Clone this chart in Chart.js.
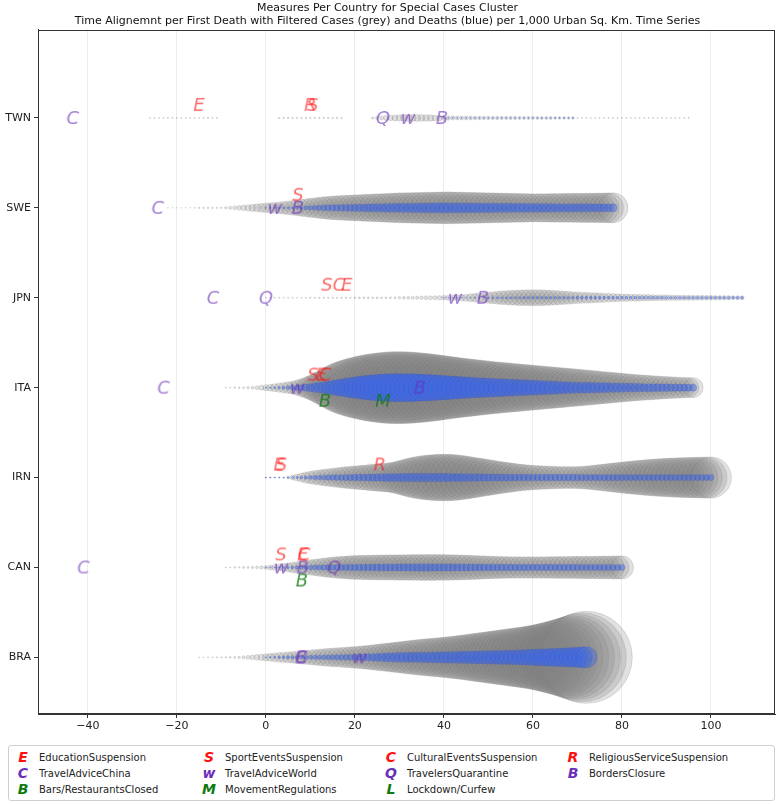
<!DOCTYPE html>
<html>
<head>
<meta charset="utf-8">
<script src="https://cdn.jsdelivr.net/npm/chart.js@4.4.1/dist/chart.umd.min.js"></script>
<style>
  body { margin: 0; background: #fff; font-family: "DejaVu Sans", sans-serif; }
  #wrap { position: relative; width: 778px; height: 738px; }
  #legend {
    position: absolute; left: 8px; top: 745px; width: 767px; height: 56px;
    border: 1px solid #cfcfcf; border-radius: 3px; box-sizing: border-box;
    display: grid; grid-template-columns: 186px 182px 182px 1fr;
    grid-auto-rows: 16px; padding-top: 3px; font-size: 10px; color: #222;
  }
  .item { display: flex; align-items: center; white-space: nowrap; }
  .mk { display: inline-block; width: 20px; text-align: center; margin-left: 4px; margin-right: 6px;
        font: italic bold 14px "DejaVu Sans", sans-serif; }
</style>
</head>
<body>
<div id="wrap"><canvas id="c"></canvas></div>
<div id="legend"></div>
<script>
// ---------------- DATA ----------------
const countries = ['TWN', 'SWE', 'JPN', 'ITA', 'IRN', 'CAN', 'BRA'];
const xTicks = [-40, -20, 0, 20, 40, 60, 80, 100];
const titleLines = [
  'Measures Per Country for Special Cases Cluster',
  'Time Alignemnt per First Death with Filtered Cases (grey) and Deaths (blue) per 1,000 Urban Sq. Km. Time Series'
];

// Filtered cases per 1,000 urban sq. km (one value per day, first day given)
const twnCasesStart = -26;
const twnCases = [0.6,0.6,0.6,0.6,0.6,0.6,0.6,0.6,0.6,0.6,
  0.6,0.6,0.6,0.6,0.6,0.6,
  0,0,0,0,0,0,0,0,0,0,0,0,0,
  0.8,0.8,0.8,0.8,0.8,0.8,0.8,0.8,0.8,0.8,0.8,0.8,0.8,0.8,0.8,
  0,0,0,0,0,0,
  1.2,1.6,2,
  2.5,2.8,3,3.2,3.4,3.5,3.5,3.5,3.4,3.3,3.2,3,2.8,2.5,
  2.2,2.1,2,2,2,1.9,1.9,1.9,1.8,1.8,1.8,1.8,1.7,1.7,1.7,1.7,1.6,1.6,1.6,1.6,1.5,1.5,1.5,1.5,1.4,1.4,1.4,1.3,1.3,
  0.6,0.6,0.6,0.6,0.6,0.6,0.6,0.6,0.6,0.6,0.6,0.6,0.6,0.6,0.6,0.6,0.6,0.6,0.6,0.6,0.6,0.6,0.6,0.6,0.6,0.6];

const sweCasesStart = -22;
const sweCases = [0.4,0.4,0.4,0.4,0.4,0.4,0.6,0.8,0.8,0.8,
  0.8,0.8,0.8,1.2,1.6,2,2.4,2.8,3.2,3.6,
  4,4.4,4.8,5.2,5.5,5.9,6.3,6.8,7.3,7.8,
  8.4,9,9.5,10,10.5,11,11.4,11.8,12.1,12.4,
  12.6,12.8,13,13.2,13.4,13.6,13.8,14,14.2,14.4,
  14.6,14.8,15,15.1,15.2,15.3,15.4,15.5,15.6,15.7,
  15.8,15.9,16,16,15.9,15.8,15.7,15.6,15.5,15.4,
  15.3,15.2,15.1,15,14.9,14.8,14.7,14.6,14.5,14.4,
  14.3,14.2,14.1,14.1,14.2,14.2,14.3,14.3,14.4,14.4,
  14.5,14.5,14.6,14.6,14.7,14.7,14.8,14.8,14.9,15,15];

const jpnCasesStart = 0;
const jpnCases = [0.6,0.6,0.6,0.6,0.6,0.6,0.6,0.6,0.6,0.6,
  0.8,0.8,0.8,0.8,0.8,0.8,0.8,0.8,0.8,0.8,
  1,1,1,1,1,1,1,1,1,1,
  1.3,1.4,1.5,1.6,1.7,1.8,1.9,2,2.1,2.2,2.4,2.6,2.8,
  3,3.3,3.6,4,4.4,4.8,5.2,5.6,
  6,6.4,6.8,7.1,7.4,7.6,7.8,7.9,8,8,8,7.9,
  7.7,7.5,7.3,7,6.7,6.4,6.1,5.8,5.6,5.4,5.2,5,4.8,
  4.6,4.4,4.2,4,3.8,3.7,3.6,3.5,3.4,3.3,3.2,3.1,3,3,2.9,
  2.8,2.8,2.7,2.7,2.6,2.6,2.5,2.5,2.4,2.4,2.3,2.3,2.2,2.2,2.1,2.1,2];

const itaCasesStart = -9;
const itaCases = [0.6,0.6,0.8,0.8,1,1.2,
  1.5,2,2.5,3,3.5,4,4.6,5.2,5.8,
  6.5,7.5,8.8,10.2,11.8,13.5,15.5,17.5,19.5,21.5,
  24,25.8,27.4,28.8,30,31.1,32.1,33,33.8,34.5,35,35.5,35.8,
  36,36,35.9,35.7,35.4,35,34.6,34.1,33.6,33,32.4,31.8,
  31.2,30.6,30,29.5,29,28.5,28,27.5,27,26.5,26,25.6,25.2,24.8,24.4,24,23.6,23.2,22.8,22.4,
  22,21.6,21.2,20.8,20.4,20,19.6,19.2,18.8,18.4,18,17.6,17.2,16.8,16.4,16,15.6,15.2,14.8,14.4,
  14,13.6,13.2,12.9,12.6,12.3,12,11.7,11.4,11.1,10.9,10.7,10.5,10.3,10.1,10];

const irnCasesStart = 0;
const irnCases = [0.6,0.6,0.6,0.6,0.6,
  1.5,2.5,3.5,4.5,5.5,6.3,7,7.6,8.2,8.8,9.3,9.8,10.3,10.8,11.2,11.6,
  12,12.4,12.8,13.2,13.6,14,14.4,14.8,
  15.5,16.5,17.6,18.8,19.9,20.8,21.6,22.2,22.6,23,23.2,23.3,
  23.2,23,22.6,22,21.3,20.6,19.9,19.2,18.5,17.8,
  17.1,16.4,15.8,15.2,14.6,14,13.5,13,12.6,12.3,
  12,11.8,11.6,11.4,11.2,11.1,11,11,11,11.1,
  11.3,11.6,12,12.5,13,13.5,14,14.5,15,15.5,
  16,16.4,16.8,17.2,17.6,18,18.3,18.6,18.9,19.2,
  19.4,19.6,19.8,20,20.1,20.2,20.3,20.4,20.5,20.5];

const canCasesStart = -9;
const canCases = [0.6,0.6,0.8,0.8,1,1,1.2,1.4,1.6,2,
  2.5,3,3.5,4,4.6,5.2,5.8,6.4,7,7.6,
  8.2,8.8,9.4,9.9,10.4,10.8,11.1,11.4,11.7,12,
  12.1,12.2,12.3,12.4,12.5,12.5,12.6,12.6,12.7,12.7,
  12.8,12.8,12.9,12.9,13,13,13,13,12.9,12.9,
  12.8,12.7,12.6,12.5,12.4,12.2,12,11.8,11.6,11.4,
  11.2,11.1,11,10.9,10.8,10.8,10.7,10.7,10.7,10.7,
  10.7,10.8,10.8,10.9,10.9,11,11,11,11.1,11.1,
  11.2,11.2,11.3,11.3,11.4,11.4,11.5,11.5,11.6,11.6];

const braCasesStart = -15;
const braCases = [0.5,0.5,0.6,0.6,0.7,0.7,0.8,0.9,1,1.2,
  1.6,2,2.4,2.8,3.2,3.6,4,4.4,4.8,5.2,
  5.5,5.8,6.2,6.6,7,7.4,7.8,8.2,8.6,9,
  9.3,9.6,9.9,10.2,10.5,10.8,11.2,11.6,12,12.5,
  13,13.5,14,14.5,15,15.5,16,16.5,17,17.5,
  18,18.4,18.8,19.2,19.6,20,20.5,21,21.5,22,
  22.6,23.2,23.8,24.4,25,25.6,26.2,26.8,27.4,28,
  28.6,29.2,29.8,30.4,31,31.8,32.6,33.5,34.5,35.5,
  36.6,37.8,39,40.3,41.6,43,44.5,46];

// Deaths per 1,000 urban sq. km (one value per day, first day given)
const twnDeathsStart = 40;
const twnDeaths = [0.6,0.6,0.6,0.6,0.6,0.6,0.6,0.6,0.6,0.6,0.6,0.6,0.6,0.6,0.6,
  0.6,0.6,0.6,0.6,0.6,0.6,0.6,0.6,0.6,0.6,0.6,0.6,0.6,0.6,0.6];

const sweDeathsStart = 0;
const sweDeaths = [0.6,0.7,0.8,0.9,1,1.1,1.2,1.4,
  1.7,2,2.2,2.4,2.6,2.8,3,3.1,3.2,3.3,
  3.4,3.5,3.6,3.7,3.8,3.9,4,4.1,4.2,4.3,
  4.4,4.5,4.5,4.6,4.6,4.7,4.7,4.8,4.8,4.9,
  4.9,5,5,5,5,4.9,4.9,4.9,4.8,4.8,
  4.8,4.7,4.7,4.7,4.6,4.6,4.6,4.5,4.5,4.5,
  4.5,4.4,4.4,4.4,4.3,4.3,4.3,4.2,4.2,4.2,
  4.2,4.1,4.1,4.1,4.1,4,4,4,4,4,4];

const jpnDeathsStart = 40;
const jpnDeaths = [0.6,0.6,0.6,0.6,0.6,0.6,0.6,0.6,0.6,0.6,
  1,1,1,1,1,1.1,1.1,1.1,1.2,1.2,
  1.3,1.3,1.3,1.3,1.3,1.3,1.3,1.3,1.3,1.3,
  1.4,1.4,1.4,1.4,1.4,1.4,1.4,1.4,1.4,1.4,
  1.4,1.4,1.4,1.4,1.4,1.4,1.4,1.4,1.4,1.4,
  1.3,1.3,1.3,1.3,1.3,1.3,1.3,1.3,1.3,1.3,
  1.3,1.3,1.3,1.3,1.3,1.3,1.3,1.3];

const itaDeathsStart = 0;
const itaDeaths = [0.6,0.8,1,1.2,1.5,1.8,
  2.2,2.6,3,3.5,4,4.6,5.2,5.8,6.5,7.2,
  7.9,8.6,9.3,10,10.6,11.2,11.8,12.3,12.7,13.1,13.4,13.7,13.9,
  14,14,14,13.9,13.8,13.6,13.4,13.2,13,12.7,12.4,12.1,
  11.8,11.5,11.2,10.9,10.6,10.3,10,9.8,9.6,9.4,9.2,9,8.8,8.6,8.4,8.2,8,7.8,7.6,7.4,
  7.2,7,6.8,6.6,6.4,6.2,6,5.8,5.6,5.5,5.4,5.3,5.2,5.1,5,4.9,4.8,4.7,4.6,4.5,
  4.4,4.3,4.2,4.1,4,4,3.9,3.9,3.8,3.8,3.7,3.7,3.6,3.6,3.5,3.5];

const irnDeathsStart = 0;
const irnDeaths = [0.6,0.6,0.6,0.6,0.6,
  0.8,1,1.2,1.4,1.6,1.8,
  2,2.2,2.4,2.6,2.7,2.8,2.9,3,3.1,3.2,
  3.3,3.4,3.5,3.6,3.7,3.8,3.9,4,4,4,
  4.1,4.1,4.2,4.2,4.2,4.2,4.2,4.2,4.2,4.1,
  4.1,4,4,3.9,3.9,3.8,3.8,3.7,3.7,3.6,
  3.6,3.5,3.5,3.4,3.4,3.4,3.3,3.3,3.3,3.2,
  3.2,3.2,3.2,3.2,3.2,3.2,3.2,3.2,3.2,3.2,
  3.1,3.1,3.1,3.1,3.1,3.1,3.1,3.1,3.1,3.1,
  3,3,3,3,3,3,3,3,3,3,
  3,3,3,3,3,3,3,3,3,3];

const canDeathsStart = 0;
const canDeaths = [0.6,0.7,0.8,0.9,1,1.2,1.4,1.6,1.8,2,2.2,
  2.4,2.5,2.6,2.7,2.8,2.9,3,3,3.1,3.1,
  3.2,3.2,3.3,3.3,3.4,3.4,3.5,3.5,3.5,3.6,
  3.6,3.6,3.6,3.7,3.7,3.7,3.7,3.7,3.7,3.6,
  3.6,3.6,3.5,3.5,3.5,3.4,3.4,3.4,3.3,3.3,
  3.3,3.3,3.2,3.2,3.2,3.2,3.2,3.1,3.1,3.1,
  3.1,3.1,3.1,3.1,3.1,3.1,3.1,3.1,3.1,3.1,
  3,3,3,3,3,3,3,3,3,3];

const braDeathsStart = 0;
const braDeaths = [0.6,0.8,1,1.2,1.4,1.5,1.6,1.7,1.8,1.9,
  2,2.1,2.2,2.3,2.4,2.5,2.6,2.7,2.8,2.9,
  3,3.1,3.3,3.5,3.7,3.9,4.1,4.3,4.5,4.7,
  4.8,4.9,5,5,5.1,5.1,5.2,5.3,5.4,5.5,
  5.6,5.7,5.8,5.9,6,6.1,6.2,6.3,6.4,6.5,
  6.6,6.7,6.8,6.9,7,7.1,7.2,7.4,7.6,7.8,
  8,8.2,8.4,8.6,8.8,9,9.2,9.4,9.6,9.8,
  10,10.3,10.6];

// Measures: [country, day of adoption relative to first death]
const educationSuspension        = [['TWN', -15], ['JPN', 18.2], ['ITA', 12.5], ['IRN', 3], ['CAN', 8.3]];
const sportEventsSuspension      = [['TWN', 10.5], ['SWE', 7.2], ['JPN', 13.7], ['ITA', 10.6], ['IRN', 3.5], ['CAN', 3.4]];
const culturalEventsSuspension   = [['JPN', 16.4], ['ITA', 13.3], ['CAN', 8.6]];
const religiousServiceSuspension = [['TWN', 10], ['IRN', 25.6]];
const travelAdviceChina          = [['TWN', -43.4], ['SWE', -24.3], ['JPN', -11.9], ['ITA', -23], ['CAN', -41], ['BRA', 8]];
const travelAdviceWorld          = [['TWN', 31.9], ['SWE', 2], ['JPN', 42.5], ['ITA', 7], ['CAN', 3.4], ['BRA', 21]];
const travelersQuarantine        = [['TWN', 26.3], ['JPN', 0], ['CAN', 15.3]];
const bordersClosure             = [['TWN', 39.6], ['SWE', 7.2], ['JPN', 48.8], ['ITA', 34.6], ['CAN', 8.3], ['BRA', 8]];
const barsRestaurantsClosed      = [['ITA', 13.3], ['CAN', 8.1]];
const movementRegulations        = [['ITA', 26.3]];
const lockdownCurfew             = [];

// ---------------- STYLE / BUILD ----------------
const RED = '#ff1010', PURPLE = '#6a2fb8', GREEN = '#0f7a0f';
const groupStyle = {
  red:    { color: RED,    alpha: 0.62, dy: -0.145 },
  purple: { color: PURPLE, alpha: 0.62, dy: 0 },
  green:  { color: GREEN,  alpha: 0.8,  dy: 0.145 }
};
const measures = [
  { code: 'E', name: 'EducationSuspension',        group: 'red',    pts: educationSuspension },
  { code: 'S', name: 'SportEventsSuspension',      group: 'red',    pts: sportEventsSuspension },
  { code: 'C', name: 'CulturalEventsSuspension',   group: 'red',    pts: culturalEventsSuspension },
  { code: 'R', name: 'ReligiousServiceSuspension', group: 'red',    pts: religiousServiceSuspension },
  { code: 'C', name: 'TravelAdviceChina',          group: 'purple', pts: travelAdviceChina },
  { code: 'w', name: 'TravelAdviceWorld',          group: 'purple', pts: travelAdviceWorld },
  { code: 'Q', name: 'TravelersQuarantine',        group: 'purple', pts: travelersQuarantine },
  { code: 'B', name: 'BordersClosure',             group: 'purple', pts: bordersClosure },
  { code: 'B', name: 'Bars/RestaurantsClosed',     group: 'green',  pts: barsRestaurantsClosed },
  { code: 'M', name: 'MovementRegulations',        group: 'green',  pts: movementRegulations },
  { code: 'L', name: 'Lockdown/Curfew',            group: 'green',  pts: lockdownCurfew }
];

const seriesList = [
  ['TWN', twnCasesStart, twnCases, twnDeathsStart, twnDeaths],
  ['SWE', sweCasesStart, sweCases, sweDeathsStart, sweDeaths],
  ['JPN', jpnCasesStart, jpnCases, jpnDeathsStart, jpnDeaths],
  ['ITA', itaCasesStart, itaCases, itaDeathsStart, itaDeaths],
  ['IRN', irnCasesStart, irnCases, irnDeathsStart, irnDeaths],
  ['CAN', canCasesStart, canCases, canDeathsStart, canDeaths],
  ['BRA', braCasesStart, braCases, braDeathsStart, braDeaths]
];

const RADIUS_SCALE = 1;
function toPoints(start, vals, row) {
  const out = [];
  vals.forEach((v, i) => { if (v > 0) out.push({ x: start + i, y: row, r: v * RADIUS_SCALE }); });
  return out;
}

function letterCanvas(ch, color, alpha) {
  const c = document.createElement('canvas');
  c.width = 26; c.height = 26;
  const g = c.getContext('2d');
  g.globalAlpha = alpha;
  g.fillStyle = color;
  g.font = 'italic 18px "DejaVu Sans"';
  g.textAlign = 'center';
  g.textBaseline = 'middle';
  g.fillText(ch, 13, 14);
  return c;
}

const datasets = [];
seriesList.forEach(([cty, cs, cv, ds, dv]) => {
  const row = countries.indexOf(cty);
  datasets.push({
    type: 'bubble', label: cty + ' cases', data: toPoints(cs, cv, row), order: 3,
    backgroundColor: 'rgba(128,128,128,0.24)', borderColor: 'rgba(100,100,100,0.26)', borderWidth: 0.7
  });
  datasets.push({
    type: 'bubble', label: cty + ' deaths', data: toPoints(ds, dv, row), order: 2,
    backgroundColor: 'rgba(65,105,225,0.45)', borderColor: 'rgba(50,85,210,0.45)', borderWidth: 0.7
  });
});
measures.forEach(m => {
  const st = groupStyle[m.group];
  datasets.push({
    type: 'scatter', label: m.name, order: 1,
    data: m.pts.map(([cty, d]) => ({ x: d, y: countries.indexOf(cty) + st.dy })),
    pointStyle: letterCanvas(m.code, st.color, st.alpha),
    showLine: false
  });
});

const framePlugin = {
  id: 'frame',
  afterDraw(chart) {
    const a = chart.chartArea, ctx = chart.ctx;
    ctx.save();
    ctx.strokeStyle = '#333';
    ctx.lineWidth = 1;
    ctx.strokeRect(Math.round(a.left) + 0.5, Math.round(a.top) + 0.5, Math.round(a.width) - 1, Math.round(a.height) - 1);
    ctx.restore();
  }
};

const cv = document.getElementById('c');
cv.width = 778; cv.height = 738;
new Chart(cv, {
  type: 'bubble',
  data: { datasets },
  options: {
    responsive: false,
    animation: false,
    events: [],
    layout: { autoPadding: false, padding: { left: 0, right: 3, top: 0, bottom: 0 } },
    plugins: {
      legend: { display: false },
      tooltip: { enabled: false },
      title: {
        display: true, text: titleLines, color: '#111',
        font: { family: 'DejaVu Sans', size: 11, weight: 'normal', lineHeight: 1.22 },
        padding: { top: 1, bottom: 2 }
      }
    },
    scales: {
      x: {
        type: 'linear', min: -51.2, max: 114.4,
        afterBuildTicks: s => { s.ticks = xTicks.map(v => ({ value: v })); },
        afterFit: s => { s.height = 24; },
        grid: { color: 'rgba(0,0,0,0.07)', tickColor: '#333', tickLength: 4, drawOnChartArea: true },
        border: { display: true, color: '#333' },
        ticks: {
          color: '#222', padding: 2,
          font: { family: 'DejaVu Sans', size: 11 },
          callback: v => String(v).replace('-', '\u2212')
        }
      },
      y: {
        type: 'linear', reverse: true, min: -0.98, max: 6.63,
        afterBuildTicks: s => { s.ticks = countries.map((c, i) => ({ value: i })); },
        afterFit: s => { s.width = 38; },
        grid: { drawOnChartArea: false, tickColor: '#333', tickLength: 4 },
        border: { display: true, color: '#333' },
        ticks: {
          color: '#222', padding: 3,
          font: { family: 'DejaVu Sans', size: 11 },
          callback: v => countries[v]
        }
      }
    }
  },
  plugins: [framePlugin]
});

// HTML legend (real text)
const lg = document.getElementById('legend');
measures.forEach(m => {
  const it = document.createElement('div');
  it.className = 'item';
  const mk = document.createElement('span');
  mk.className = 'mk';
  mk.style.color = groupStyle[m.group].color;
  mk.textContent = m.code;
  const tx = document.createElement('span');
  tx.textContent = m.name;
  it.appendChild(mk); it.appendChild(tx);
  lg.appendChild(it);
});
</script>
</body>
</html>
